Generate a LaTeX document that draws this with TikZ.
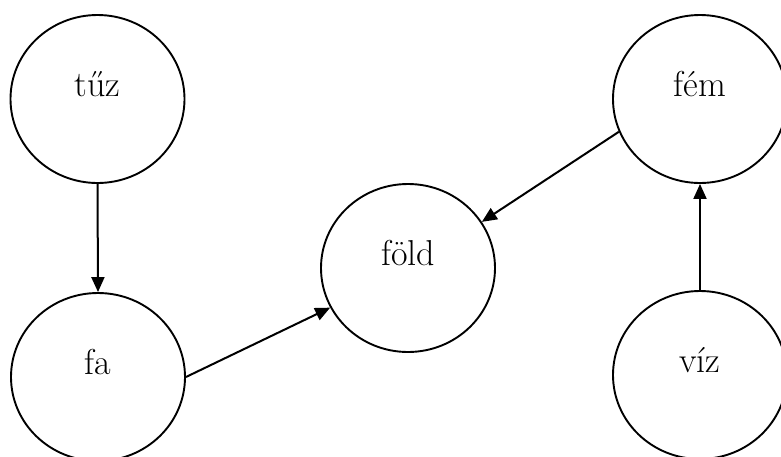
\documentclass[tikz,border=0pt]{standalone}
\usetikzlibrary{shapes.geometric,arrows.meta}
\begin{document}
\begin{tikzpicture}[x=1pt,y=-1pt,
  elem/.style={draw, line width=1.9pt, ellipse, minimum width=174pt, minimum height=168pt,
    inner sep=0pt, font=\fontsize{36}{40}\selectfont, text height=0pt, text depth=6pt},
  conn/.style={line width=2pt, -{Triangle[length=15pt,width=13pt]}}]
\useasboundingbox (0,0) rectangle (781,456);
\node[elem] (tuz) at (97.5,99) {tűz};
\node[elem] (fa) at (98,377) {fa};
\node[elem] (fold) at (408,268) {föld};
\node[elem] (fem) at (700,99) {fém};
\node[elem] (viz) at (700,375) {víz};
\draw[conn] (tuz.south) -- (fa.north);
\draw[conn] (fa.0) -- (fold.207);
\draw[conn] (fem.202) -- (fold.32);
\draw[conn] (viz.north) -- (fem.south);
\end{tikzpicture}
\end{document}
